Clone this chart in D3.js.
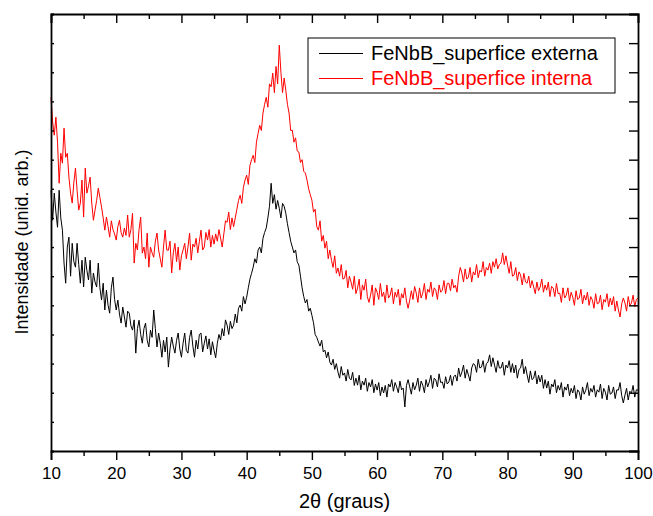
<!DOCTYPE html>
<html>
<head>
<meta charset="utf-8">
<script src="https://cdn.jsdelivr.net/npm/d3@7"></script>
<style>
  body { margin: 0; background: #fff; }
  text { font-family: "Liberation Sans", Arial, sans-serif; }
</style>
</head>
<body>
<script>
var svgWidth = 653;
var svgHeight = 516;

var margin = { top: 14, right: 15, bottom: 65, left: 51 };

var chartWidth = svgWidth - margin.left - margin.right;
var chartHeight = svgHeight - margin.top - margin.bottom;

// scan: 10 to 100 degrees, step 0.25
var angleStart = 10;
var angleStep = 0.25;

var xTicks = [10, 20, 30, 40, 50, 60, 70, 80, 90, 100];
var seriesNames = ["FeNbB_superfice externa", "FeNbB_superfice interna"];
var seriesColors = ["#000000", "#ff0000"];

// intensity (arb. units), one value per 0.25 deg, 10..100
var externa = [
  895, 792, 885, 820, 768, 895, 800, 758, 645, 576, 700, 734, 600, 713, 650, 631, 713, 640, 576, 655,
  563, 665, 620, 587, 655, 542, 611, 580, 563, 645, 560, 518, 576, 484, 552, 500, 473, 560, 597, 520,
  484, 518, 470, 439, 494, 460, 425, 480, 473, 430, 415, 450, 336, 420, 449, 400, 370, 420, 439, 380,
  357, 415, 390, 484, 420, 357, 405, 370, 322, 380, 340, 391, 288, 350, 391, 360, 336, 380, 405, 350,
  322, 370, 405, 345, 336, 390, 415, 360, 322, 380, 350, 400, 405, 340, 370, 395, 350, 385, 330, 375,
  345, 320, 370, 400, 381, 420, 395, 450, 432, 400, 445, 420, 432, 470, 440, 490, 501, 480, 530, 505,
  528, 560, 590, 610, 631, 660, 645, 690, 700, 680, 730, 750, 765, 800, 840, 919, 850, 880, 830, 860,
  833, 800, 850, 840, 816, 780, 750, 720, 700, 680, 690, 650, 638, 600, 560, 530, 508, 520, 480, 490,
  466, 440, 400, 390, 374, 360, 380, 340, 346, 320, 340, 305, 295, 315, 280, 300, 271, 250, 290, 260,
  268, 240, 280, 250, 244, 270, 225, 250, 226, 260, 210, 240, 226, 250, 205, 235, 220, 245, 200, 230,
  209, 235, 190, 220, 199, 225, 185, 230, 220, 245, 205, 235, 220, 200, 240, 210, 216, 151, 225, 245,
  220, 195, 235, 210, 226, 250, 205, 240, 226, 200, 245, 220, 237, 260, 215, 250, 244, 220, 265, 235,
  237, 215, 255, 230, 237, 260, 225, 255, 261, 240, 285, 255, 271, 295, 250, 280, 261, 240, 285, 300,
  295, 270, 315, 285, 288, 310, 270, 300, 305, 330, 290, 320, 295, 270, 310, 285, 285, 305, 260, 295,
  285, 310, 270, 300, 268, 295, 250, 280, 285, 315, 265, 290, 261, 235, 275, 245, 250, 275, 230, 260,
  237, 260, 215, 245, 216, 240, 195, 230, 220, 245, 200, 225, 209, 235, 185, 220, 209, 230, 190, 215,
  199, 225, 180, 210, 202, 175, 220, 195, 209, 235, 190, 215, 202, 225, 185, 210, 202, 230, 180, 215,
  202, 175, 225, 195, 199, 220, 180, 210, 209, 235, 190, 165, 192, 215, 175, 205, 199, 225, 185, 210,
  209
];

var interna = [
  1214, 1130, 1084, 1146, 1060, 919, 1022, 988, 1108, 1008, 1022, 940, 885, 851, 920, 971, 895, 827, 851, 930,
  803, 971, 885, 910, 940, 851, 792, 827, 860, 902, 870, 837, 800, 758, 803, 770, 734, 790, 760, 745,
  724, 770, 792, 750, 734, 765, 740, 810, 734, 760, 816, 645, 713, 690, 760, 803, 679, 700, 660, 748,
  631, 700, 680, 665, 720, 748, 690, 660, 631, 700, 758, 690, 689, 720, 611, 680, 713, 650, 700, 621,
  670, 690, 713, 660, 700, 748, 655, 710, 700, 730, 680, 720, 758, 690, 700, 750, 724, 760, 700, 740,
  710, 745, 720, 760, 731, 700, 745, 790, 785, 820, 760, 800, 770, 800, 830, 860, 878, 850, 905, 930,
  947, 915, 980, 1000, 1015, 990, 1060, 1090, 1118, 1100, 1160, 1190, 1214, 1180, 1260, 1250, 1297, 1230, 1320, 1260,
  1393, 1300, 1230, 1280, 1238, 1190, 1160, 1100, 1101, 1060, 1075, 1030, 1026, 990, 1000, 960, 954, 930, 900, 880,
  861, 820, 830, 770, 758, 790, 720, 740, 696, 720, 660, 690, 655, 630, 670, 610, 628, 600, 640, 590,
  593, 620, 560, 600, 580, 555, 600, 540, 559, 590, 520, 570, 552, 590, 530, 510, 535, 570, 500, 560,
  545, 520, 575, 530, 545, 510, 570, 525, 535, 560, 505, 545, 528, 555, 500, 540, 525, 560, 515, 490,
  518, 550, 520, 565, 542, 510, 560, 525, 542, 575, 520, 555, 545, 580, 530, 560, 552, 520, 570, 545,
  552, 585, 540, 575, 576, 550, 590, 560, 569, 545, 600, 630, 611, 580, 625, 590, 597, 630, 580, 615,
  604, 640, 595, 620, 614, 650, 600, 630, 621, 645, 610, 650, 631, 660, 625, 640, 645, 680, 640, 670,
  638, 610, 650, 600, 604, 630, 585, 615, 604, 570, 610, 580, 576, 600, 560, 585, 563, 540, 580, 550,
  563, 590, 545, 570, 552, 580, 530, 565, 559, 530, 575, 540, 542, 510, 560, 525, 535, 560, 515, 545,
  528, 500, 550, 520, 525, 555, 505, 535, 518, 545, 500, 530, 518, 490, 540, 505, 508, 535, 485, 520,
  511, 540, 495, 525, 501, 530, 480, 515, 484, 460, 505, 525, 508, 480, 530, 500, 508, 535, 495, 520,
  525
];

var svg = d3.select("body")
  .append("svg")
  .attr("width", svgWidth)
  .attr("height", svgHeight);

var chartGroup = svg.append("g")
  .attr("transform", `translate(${margin.left}, ${margin.top})`);

var xScale = d3.scaleLinear()
  .domain([10, 100])
  .range([0, chartWidth]);

var yScale = d3.scaleLinear()
  .domain([0, 1500])
  .range([chartHeight, 0]);

var drawLine = d3.line()
  .x((d, i) => xScale(angleStart + i * angleStep))
  .y(d => yScale(d));

[externa, interna].forEach(function(series, k) {
  chartGroup.append("path")
    .attr("d", drawLine(series))
    .attr("stroke", seriesColors[k])
    .attr("stroke-width", 1)
    .style("fill", "none");
});

var minorX = d3.range(15, 100, 10);
var yTicks = d3.range(0, 1501, 100);

// bottom axis, ticks outward
chartGroup.append("g")
  .attr("transform", `translate(0, ${chartHeight})`)
  .call(d3.axisBottom(xScale).tickValues(xTicks).tickSize(9).tickPadding(7).tickFormat(d3.format("d")))
  .call(g => g.selectAll(".tick text").attr("font-size", 17).attr("fill", "#000"));
chartGroup.append("g")
  .attr("transform", `translate(0, ${chartHeight})`)
  .call(d3.axisBottom(xScale).tickValues(minorX).tickSize(5).tickFormat(""))
  .call(g => g.select(".domain").remove());

// top axis, ticks inward
chartGroup.append("g")
  .call(d3.axisBottom(xScale).tickValues(xTicks).tickSize(9).tickFormat(""));
chartGroup.append("g")
  .call(d3.axisBottom(xScale).tickValues(minorX).tickSize(5).tickFormat(""))
  .call(g => g.select(".domain").remove());

// left axis, short inward ticks, right axis longer inward ticks
chartGroup.append("g")
  .call(d3.axisRight(yScale).tickValues(yTicks).tickSize(3).tickFormat(""));
chartGroup.append("g")
  .attr("transform", `translate(${chartWidth}, 0)`)
  .call(d3.axisLeft(yScale).tickValues(yTicks).tickSize(9).tickFormat(""));

chartGroup.selectAll(".domain").attr("stroke-width", 1.8).attr("stroke", "#000");
chartGroup.selectAll(".tick line").attr("stroke-width", 1.4).attr("stroke", "#000");

// axis titles
svg.append("text")
  .attr("x", margin.left + chartWidth / 2)
  .attr("y", 508)
  .attr("text-anchor", "middle")
  .attr("font-size", 20)
  .text("2θ (graus)");

svg.append("text")
  .attr("transform", "translate(28, 242) rotate(-90)")
  .attr("text-anchor", "middle")
  .attr("font-size", 18)
  .text("Intensidade (unid. arb.)");

// legend
var legend = svg.append("g").attr("transform", "translate(308, 38)");
legend.append("rect")
  .attr("width", 307)
  .attr("height", 55)
  .attr("fill", "#fff")
  .attr("stroke", "#000")
  .attr("stroke-width", 1);

seriesNames.forEach(function(name, k) {
  var row = legend.append("g").attr("transform", `translate(0, ${15.5 + k * 25})`);
  row.append("line")
    .attr("x1", 11).attr("x2", 55)
    .attr("stroke", seriesColors[k]).attr("stroke-width", 1);
  row.append("text")
    .attr("x", 63)
    .attr("y", 6.5)
    .attr("font-size", 20)
    .attr("fill", seriesColors[k])
    .text(name);
});
</script>
</body>
</html>
